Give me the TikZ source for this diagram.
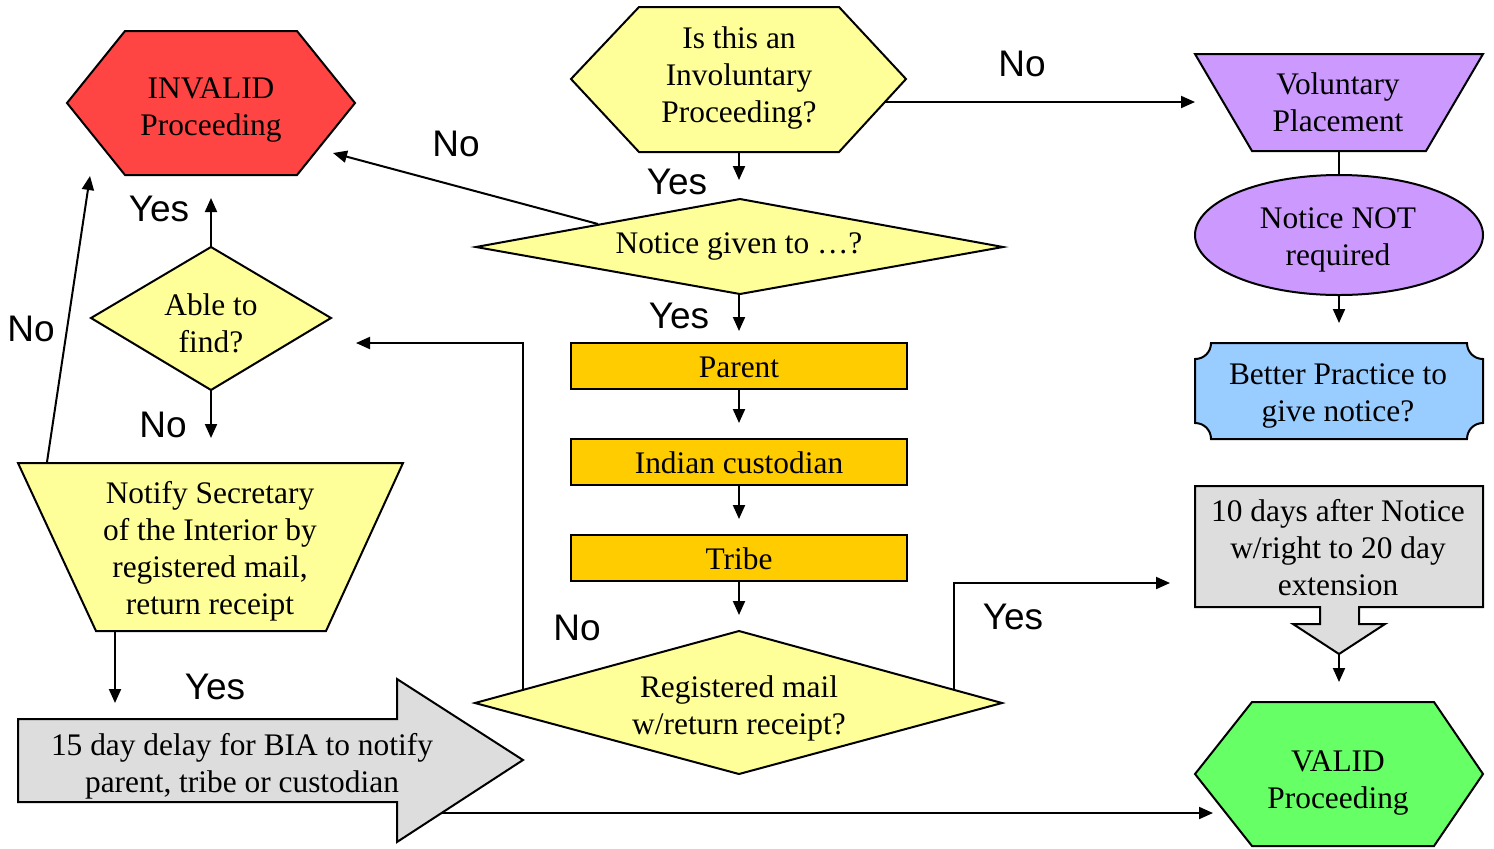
\documentclass[tikz,border=0pt]{standalone}
\usepackage{fontspec}
\setmainfont{Liberation Serif}
\newfontfamily\labelfont{Liberation Sans}
\usetikzlibrary{arrows.meta}
\definecolor{cyellow}{HTML}{FFFF99}
\definecolor{corange}{HTML}{FFCC00}
\definecolor{cred}{HTML}{FF4444}
\definecolor{cgreen}{HTML}{66FF66}
\definecolor{cpurple}{HTML}{CC99FF}
\definecolor{cblue}{HTML}{99CCFF}
\definecolor{cgray}{HTML}{DDDDDD}
\begin{document}
\begin{tikzpicture}[x=0.5pt,y=-0.5pt,
  shp/.style={draw=black, line width=1pt, line join=miter},
  txt/.style={font=\fontsize{15.7}{18.5}\selectfont, align=center, inner sep=0pt},
  lbl/.style={font=\labelfont\fontsize{18.5}{21}\selectfont, inner sep=0pt},
  conn/.style={draw=black, line width=1pt, -{Triangle[length=7pt,width=6pt]}},
  plainline/.style={draw=black, line width=1pt}]
\useasboundingbox (0,0) rectangle (1494,848);

% ---------- connection points ----------
\coordinate (isinvB) at (739,152);
\coordinate (isinvR) at (884,102);
\coordinate (noticeT) at (739,180);
\coordinate (noticeE) at (598,224);
\coordinate (noticeB) at (739,294);
\coordinate (invalidE) at (333,153);
\coordinate (parentT) at (739,331);
\coordinate (parentB) at (739,389);
\coordinate (indianT) at (739,423);
\coordinate (indianB) at (739,485);
\coordinate (tribeT) at (739,519);
\coordinate (tribeB) at (739,581);
\coordinate (regT) at (739,615);
\coordinate (regL) at (523,690);
\coordinate (regR) at (954,690);
\coordinate (ableE) at (356,343);
\coordinate (tendaysE) at (1170,583);
\coordinate (ableT) at (211,247);
\coordinate (ableB) at (211,390);
\coordinate (invalidB) at (211,198);
\coordinate (notifyT) at (211,438);
\coordinate (notifyE) at (47,462);
\coordinate (invalidL) at (90,176);
\coordinate (notifyB) at (115,631);
\coordinate (delayT) at (115,703);
\coordinate (delayS) at (420,813);
\coordinate (validL) at (1213,813);
\coordinate (volL) at (1195,102);
\coordinate (volB) at (1339,151);
\coordinate (ellT) at (1339,175);
\coordinate (ellB) at (1339,295);
\coordinate (betterT) at (1339,323);
\coordinate (tendaysB) at (1339,654);
\coordinate (validT) at (1339,682);

% ---------- connectors drawn behind shapes ----------
\draw[conn] (noticeE) -- (invalidE);
\draw[conn] (delayS) -- (validL);

% ---------- shapes ----------
% Is this an Involuntary Proceeding?
\draw[shp, fill=cyellow] (571,79) -- (639,7) -- (839,7) -- (906,79) -- (839,152) -- (639,152) -- cycle;
\node[txt] (isinv) at (739,78) {Is this an\\Involuntary\\Proceeding?};

% INVALID Proceeding
\draw[shp, fill=cred] (67,103) -- (125,31) -- (297,31) -- (355,103) -- (297,175) -- (125,175) -- cycle;
\node[txt] (invalid) at (211,110) {INVALID\\Proceeding};

% Notice given to ...?
\draw[shp, fill=cyellow] (476,247) -- (740,199) -- (1003,247) -- (740,294) -- cycle;
\node[txt] (notice) at (739,246) {Notice given to …?};

% Able to find?
\draw[shp, fill=cyellow] (91,318) -- (211,247) -- (331,318) -- (211,390) -- cycle;
\node[txt] (able) at (211,323) {Able to\\find?};

% Orange boxes
\draw[shp, fill=corange] (571,343) rectangle (907,389);
\node[txt] (parent) at (739,367) {Parent};
\draw[shp, fill=corange] (571,439) rectangle (907,485);
\node[txt] (indian) at (739,463) {Indian custodian};
\draw[shp, fill=corange] (571,535) rectangle (907,581);
\node[txt] (tribe) at (739,559) {Tribe};

% Registered mail diamond
\draw[shp, fill=cyellow] (475,703) -- (739,631) -- (1002,703) -- (739,774) -- cycle;
\node[txt] (reg) at (739,708) {Registered mail\\w/return receipt?};

% Notify Secretary trapezoid
\draw[shp, fill=cyellow] (18,463) -- (403,463) -- (326,631) -- (96,631) -- cycle;
\node[txt] (notify) at (210,551) {Notify Secretary\\of the Interior by\\registered mail,\\return receipt};

% 15 day delay block arrow
\draw[shp, fill=cgray] (18,719) -- (397,719) -- (397,679) -- (523,760) -- (397,842) -- (397,802) -- (18,802) -- cycle;
\node[txt] (delay) at (242,766) {15 day delay for BIA to notify\\parent, tribe or custodian};

% Voluntary Placement
\draw[shp, fill=cpurple] (1195,54) -- (1483,54) -- (1426,151) -- (1252,151) -- cycle;
\node[txt] (vol) at (1338,102) {Voluntary\\Placement};

% Notice NOT required ellipse
\draw[shp, fill=cpurple] (1339,235) ellipse [x radius=144, y radius=60];
\node[txt] (notreq) at (1338,240) {Notice NOT\\required};

% Better Practice plaque
\draw[shp, fill=cblue]
  (1211,343) -- (1467,343)
  .. controls (1467,352) and (1474,359) .. (1483,359)
  -- (1483,423)
  .. controls (1474,423) and (1467,430) .. (1467,439)
  -- (1211,439)
  .. controls (1211,430) and (1204,423) .. (1195,423)
  -- (1195,359)
  .. controls (1204,359) and (1211,352) .. (1211,343) -- cycle;
\node[txt] (better) at (1338,396) {Better Practice to\\give notice?};

% 10 days box with down arrow
\draw[shp, fill=cgray] (1195,486) -- (1483,486) -- (1483,607) -- (1359,607) -- (1359,624) -- (1385,624) -- (1339,654) -- (1293,624) -- (1320,624) -- (1320,607) -- (1195,607) -- cycle;
\node[txt] (tendays) at (1338,548) {10 days after Notice\\w/right to 20 day\\extension};

% VALID Proceeding
\draw[shp, fill=cgreen] (1195,774) -- (1252,702) -- (1434,702) -- (1483,774) -- (1434,846) -- (1252,846) -- cycle;
\node[txt] (valid) at (1338,783) {VALID\\Proceeding};

% ---------- connectors ----------
\draw[conn] (isinvB) -- (noticeT);
\draw[conn] (isinvR) -- (volL);
\draw[conn] (noticeB) -- (parentT);
\draw[conn] (parentB) -- (indianT);
\draw[conn] (indianB) -- (tribeT);
\draw[conn] (tribeB) -- (regT);
\draw[conn] (regL) |- (ableE);
\draw[conn] (regR) |- (tendaysE);
\draw[conn] (ableT) -- (invalidB);
\draw[conn] (ableB) -- (notifyT);
\draw[conn] (notifyE) -- (invalidL);
\draw[conn] (notifyB) -- (delayT);
\draw[plainline] (volB) -- (ellT);
\draw[conn] (ellB) -- (betterT);
\draw[conn] (tendaysB) -- (validT);

% ---------- labels ----------
\node[lbl] (l1) at (1022,64) {No};
\node[lbl] (l2) at (456,144) {No};
\node[lbl] (l3) at (677,182) {Yes};
\node[lbl] (l4) at (159,209) {Yes};
\node[lbl] (l5) at (679,316) {Yes};
\node[lbl] (l6) at (31,329) {No};
\node[lbl] (l7) at (163,425) {No};
\node[lbl] (l8) at (577,628) {No};
\node[lbl] (l9) at (1013,617) {Yes};
\node[lbl] (l10) at (215,687) {Yes};
\end{tikzpicture}
\end{document}
